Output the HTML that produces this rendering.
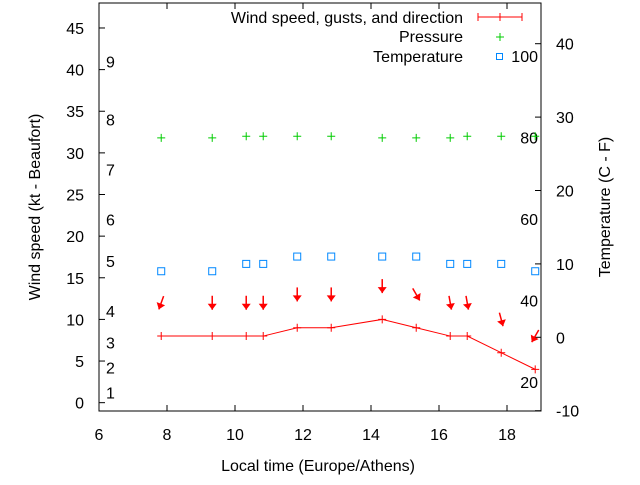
<!DOCTYPE html>
<html><head><meta charset="utf-8"><style>
body{margin:0;background:#fff;}
svg text{font-family:"Liberation Sans",sans-serif;font-size:16px;fill:#000;}
</style></head><body>
<svg width="640" height="480" viewBox="0 0 640 480" id="chart">
<rect width="640" height="480" fill="#fff"/>
</svg>
<script>
const times=[7.83,9.33,10.33,10.83,11.83,12.83,14.33,15.33,16.33,16.83,17.83,18.83];
const wind=[8,8,8,8,9,9,10,9,8,8,6,4];
const gusts=[12,12,12,12,13,13,14,13,12,12,10,8];
const dirs=[20,0,0,0,0,0,0,330,350,350,345,30];
const pressure=[31.8,31.8,32,32,32,32,31.8,31.8,31.8,32,32,32];
const temps=[9,9,10,10,11,11,11,11,10,10,10,9];
const xTicks=[6,8,10,12,14,16,18];
const yTicks=[0,5,10,15,20,25,30,35,40,45];
const tTicks=[-10,0,10,20,30,40];
const beaufort=[[1,1.2],[2,4.2],[3,7.2],[4,11],[5,17],[6,22],[7,28],[8,34],[9,41]];
const fTicks=[20,40,60,80,100];

const L=99,R=541,T=3,B=411;
const X=v=>L+(v-6)*(R-L)/13;
const Y=v=>B-(v+1)*(B-T)/49;
const TY=v=>410.7-(v+10)*7.34;
const svg=document.getElementById('chart');
const NS='http://www.w3.org/2000/svg';
function mk(tag,attrs,parent){const e=document.createElementNS(NS,tag);for(const k in attrs)e.setAttribute(k,attrs[k]);(parent||svg).appendChild(e);return e;}
function txt(s,x,y,anchor){const e=mk('text',{x:x,y:y,'text-anchor':anchor||'middle'});e.textContent=s;return e;}

const box=mk('rect',{x:L,y:T,width:R-L,height:B-T,fill:'none',stroke:'#000','stroke-width':1});



xTicks.forEach(v=>{
  const x=X(v);
  const t=mk('path',{d:`M${x},${B}v-6M${x},${T}v6`,stroke:'#000'});
  
  
  const l=txt(String(v),x,440);
  
  
});
yTicks.forEach(v=>{
  const y=Y(v);
  const t=mk('path',{d:`M${L},${y}h6`,stroke:'#000'});
  
  
  const l=txt(String(v),84,y+6,'end');
  
  
});
tTicks.forEach(v=>{
  const y=TY(v);
  const t=mk('path',{d:`M${R},${y}h-6`,stroke:'#000'});
  
  
  const l=txt(String(v),556,y+6,'start');
  
  
});
beaufort.forEach(b=>{
  const l=txt(String(b[0]),106,Y(b[1])+6,'start');
  
  
});
fTicks.forEach(f=>{
  const c=(f-32)*5/9;
  const l=txt(String(f),538,TY(c)+2,'end');
  
  
});

let a=txt('Local time (Europe/Athens)',318,471);

a=txt('Wind speed (kt - Beaufort)',0,0);a.setAttribute('transform','translate(40,207) rotate(-90)');

a=txt('Temperature (C - F)',0,0);a.setAttribute('transform','translate(610,207) rotate(-90)');


const wl=mk('polyline',{points:times.map((t,i)=>X(t)+','+Y(wind[i])).join(' '),fill:'none',stroke:'#f00','stroke-width':1});


times.forEach((t,i)=>{
  const x=X(t),y=Y(wind[i]);
  const m=mk('path',{d:`M${x-4},${y}h8M${x},${y-4}v8`,stroke:'#f00'});
  
  
});
times.forEach((t,i)=>{
  const x=X(t),y=Y(gusts[i]);
  const r=dirs[i]*Math.PI/180, len=14;
  const dx=Math.sin(r),dy=-Math.cos(r);
  const tx=x-dx*len/2,ty=y-dy*len/2;
  const sx=x+dx*len/2,sy=y+dy*len/2;
  const g=mk('g',{});
  
  
  mk('line',{x1:sx,y1:sy,x2:tx,y2:ty,stroke:'#f00','stroke-width':1.5},g);
  const px=-dy,py=dx;
  const bx=tx+dx*6,by=ty+dy*6;
  mk('polygon',{points:`${tx},${ty} ${bx+px*4.5},${by+py*4.5} ${bx-px*4.5},${by-py*4.5}`,fill:'#f00'},g);
});
times.forEach((t,i)=>{
  const x=X(t),y=Y(pressure[i]);
  const m=mk('path',{d:`M${x-4},${y}h8M${x},${y-4}v8`,stroke:'#0c0'});
  
  
});
times.forEach((t,i)=>{
  const x=X(t),y=TY(temps[i]);
  const m=mk('rect',{x:x-3.5,y:y-3.5,width:7,height:7,fill:'none',stroke:'#08f','stroke-width':1});
  
  
});
const lg=mk('g',{});


let e=mk('text',{x:463,y:23,'text-anchor':'end'},lg);e.textContent='Wind speed, gusts, and direction';
mk('path',{d:'M478,17h44M478,13v8M522,13v8M500,13v8',stroke:'#f00'},lg);
e=mk('text',{x:463,y:42,'text-anchor':'end'},lg);e.textContent='Pressure';
mk('path',{d:'M496,37h8M500,33v8',stroke:'#0c0'},lg);
e=mk('text',{x:463,y:62,'text-anchor':'end'},lg);e.textContent='Temperature';
mk('rect',{x:496.5,y:53.5,width:6,height:6,fill:'none',stroke:'#08f'},lg);
</script>
</body></html>
